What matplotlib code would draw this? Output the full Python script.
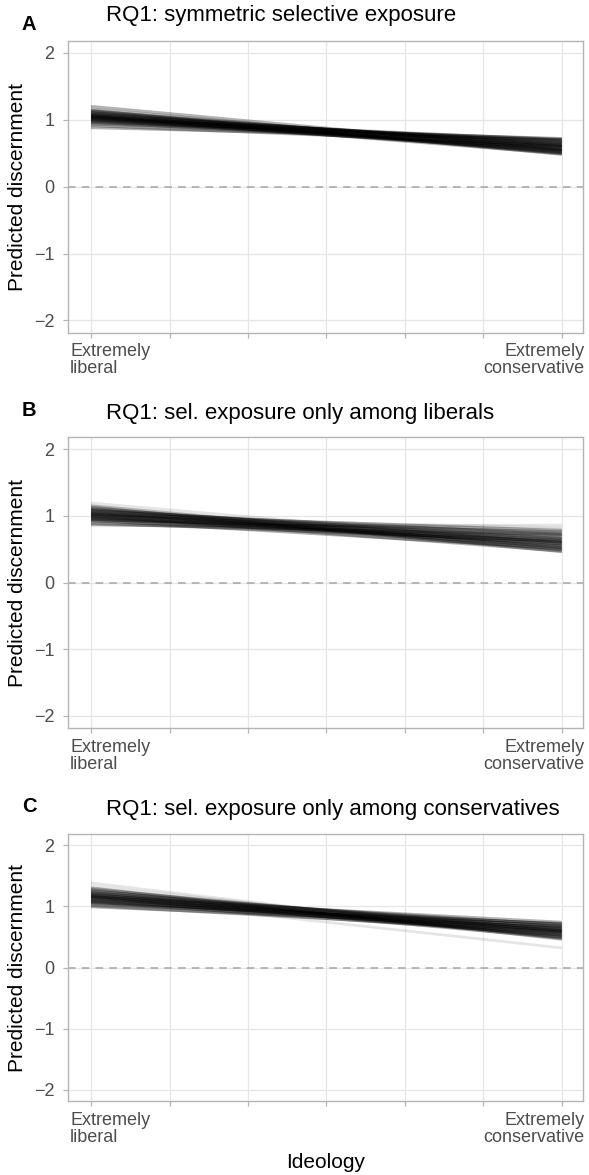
import matplotlib
matplotlib.use("Agg")
import numpy as np
import matplotlib.pyplot as plt
from matplotlib.transforms import ScaledTranslation

plt.rcParams['font.family'] = ['Liberation Sans', 'DejaVu Sans']

# Ideology scale 1 (extremely liberal) .. 7 (extremely conservative)
ideology = [1, 7]
x_ticks = [1, 2, 3, 4, 5, 6, 7]
x_labels = ["Extremely\nliberal", "", "", "", "", "", "Extremely\nconservative"]
y_ticks = [-2, -1, 0, 1, 2]
y_labels = ["\u22122", "\u22121", "0", "1", "2"]

panel_tags = ["A", "B", "C"]
panel_titles = [
    "RQ1: symmetric selective exposure",
    "RQ1: sel. exposure only among liberals",
    "RQ1: sel. exposure only among conservatives",
]

# predicted discernment of each posterior draw at ideology = 1 and ideology = 7
a_left = [1.16, 1.14, 1.13, 1.12, 1.11, 1.10, 1.09, 1.08, 1.08, 1.07, 1.06, 1.06,
          1.05, 1.05, 1.04, 1.04, 1.03, 1.03, 1.02, 1.02, 1.01, 1.00, 1.00, 0.99,
          0.98, 0.97, 0.96, 0.95, 0.93, 0.91, 1.20, 0.88]
a_right = [0.54, 0.48, 0.58, 0.50, 0.61, 0.52, 0.62, 0.50, 0.64, 0.53, 0.66, 0.55,
           0.60, 0.49, 0.63, 0.56, 0.68, 0.52, 0.60, 0.70, 0.57, 0.65, 0.54, 0.68,
           0.60, 0.71, 0.58, 0.66, 0.72, 0.62, 0.55, 0.70]

b_left = [1.15, 1.13, 1.11, 1.10, 1.09, 1.08, 1.07, 1.06, 1.05, 1.04, 1.03, 1.03,
          1.02, 1.01, 1.00, 1.00, 0.99, 0.98, 0.97, 0.97, 0.96, 0.95, 0.94, 0.93,
          0.92, 0.91, 0.89, 0.87, 0.85, 1.19]
b_right = [0.52, 0.46, 0.60, 0.50, 0.66, 0.55, 0.72, 0.49, 0.63, 0.57, 0.78, 0.53,
           0.68, 0.61, 0.47, 0.74, 0.58, 0.82, 0.64, 0.55, 0.70, 0.60, 0.76, 0.51,
           0.66, 0.80, 0.62, 0.72, 0.86, 0.58]

c_left = [1.33, 1.30, 1.28, 1.26, 1.25, 1.23, 1.22, 1.21, 1.20, 1.19, 1.18, 1.17,
          1.16, 1.16, 1.15, 1.14, 1.13, 1.12, 1.11, 1.10, 1.09, 1.08, 1.07, 1.06,
          1.05, 1.03, 1.01, 0.99, 1.38, 1.16]
c_right = [0.52, 0.46, 0.58, 0.49, 0.62, 0.53, 0.66, 0.50, 0.60, 0.56, 0.70, 0.48,
           0.63, 0.57, 0.74, 0.52, 0.61, 0.67, 0.55, 0.71, 0.59, 0.64, 0.53, 0.68,
           0.61, 0.72, 0.58, 0.66, 0.47, 0.32]

draws = [(a_left, a_right), (b_left, b_right), (c_left, c_right)]

grid_col = "#e6e6e6"
border_col = "#b5b5b5"
text_col = "#4d4d4d"

W, H = 589, 1175
fig = plt.figure(figsize=(W / 100, H / 100), dpi=100)
# panel boxes in pixels: left, top, right, bottom
boxes = [(67.5, 40.7, 583, 332.5), (67.5, 437, 583, 728), (67.5, 834, 583, 1101)]
tag_y = [24.5, 410, 807]
title_y = [16, 413.5, 810]

for i, (lefts, rights) in enumerate(draws):
    l, t, r, b = boxes[i]
    ax = fig.add_axes([l / W, 1 - b / H, (r - l) / W, (b - t) / H])
    med_l, med_r = np.median(lefts), np.median(rights)
    for y0, y1 in zip(lefts, rights):
        # draws far from the bulk look fainter (fewer overlapping draws there)
        dev = max(abs(y0 - med_l), abs(y1 - med_r))
        alpha = 0.3 if dev < 0.17 else 0.1
        ax.plot(ideology, [y0, y1], color="black", alpha=alpha, lw=2.0,
                solid_capstyle="butt", zorder=3)
    ax.axhline(0, color="#a6a6a6", ls=(0, (5, 4)), lw=1.1, zorder=2)

    ax.set_xlim(0.7, 7.27)
    ax.set_ylim(-2.18, 2.18)
    ax.set_xticks(x_ticks)
    ax.set_xticklabels(x_labels, fontsize=13, color=text_col, linespacing=1.0)
    ax.set_yticks(y_ticks)
    ax.set_yticklabels(y_labels, fontsize=13, color=text_col)
    ax.grid(True, color=grid_col, lw=0.9, zorder=0)
    ax.set_axisbelow(True)
    for s in ax.spines.values():
        s.set_color(border_col)
        s.set_linewidth(1.0)
    ax.tick_params(axis="both", color=border_col, length=3.8, width=0.9)
    ax.tick_params(axis="x", pad=4)
    ax.tick_params(axis="y", pad=5.5)

    lab = ax.get_xticklabels()
    lab[0].set_ha("left")
    lab[0].set_multialignment("left")
    lab[0].set_transform(lab[0].get_transform() + ScaledTranslation(-0.21, 0, fig.dpi_scale_trans))
    lab[-1].set_ha("right")
    lab[-1].set_multialignment("right")
    lab[-1].set_transform(lab[-1].get_transform() + ScaledTranslation(0.225, 0, fig.dpi_scale_trans))

    ax.set_ylabel("Predicted discernment", fontsize=15)
    ax.yaxis.label.set_va("center")
    ax.yaxis.set_label_coords((17.5 - l) / (r - l), 0.5)
    if i == 2:
        ax.set_xlabel("Ideology", fontsize=15)
        ax.xaxis.label.set_va("center")
        ax.xaxis.set_label_coords(0.5, (b - 1163) / (b - t))

    fig.text(22 / W, 1 - tag_y[i] / H, panel_tags[i], fontsize=14.5, fontweight="bold",
             ha="left", va="center")
    fig.text(106 / W, 1 - title_y[i] / H, panel_titles[i], fontsize=16,
             ha="left", va="center")

fig.savefig("out.png", dpi=100)
